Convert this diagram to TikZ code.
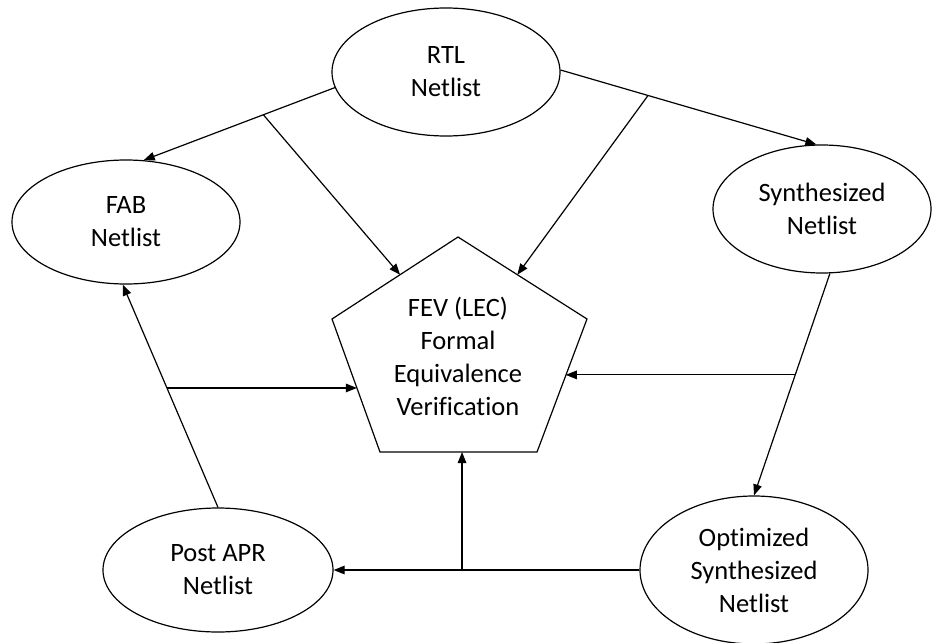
\documentclass[tikz,border=0pt]{standalone}
\usepackage{fontspec}
\setmainfont{Carlito}[Ligatures=CommonOff]
\usetikzlibrary{shapes.geometric,arrows.meta,calc}
\begin{document}
\begin{tikzpicture}[x=1pt,y=-1pt,
  every node/.style={font=\fontsize{26.5}{33}\selectfont, align=center, text=black},
  netlist/.style={ellipse, draw, line width=1.2pt, inner sep=0pt},
  flow/.style={line width=1.2pt, -{Triangle[length=11pt,width=8.5pt]}},
  link/.style={line width=1.2pt}]
\useasboundingbox[fill=white] (0,0) rectangle (933,642);

% netlist stages
\node[netlist, minimum width=228pt, minimum height=128pt] (rtl) at (446,72) {RTL\\Netlist};
\node[netlist, minimum width=228pt, minimum height=124pt] (fab) at (126,222) {FAB\\Netlist};
\node[netlist, minimum width=218pt, minimum height=128pt] (syn) at (822,209) {Synthesized\\Netlist};
\node[netlist, minimum width=230pt, minimum height=124pt] (apr) at (218,570) {Post APR\\Netlist};
\node[netlist, minimum width=228pt, minimum height=148pt] (opt) at (754,570) {Optimized\\Synthesized\\Netlist};

% equivalence checker (pentagon)
\coordinate (pt) at (458,237);
\coordinate (pl) at (332,319);
\coordinate (pr) at (587,319);
\coordinate (pbl) at (380,452);
\coordinate (pbr) at (537,452);
\draw[link] (pt) -- (pr) -- (pbr) -- (pbl) -- (pl) -- cycle;
\node (fev) at (458,356) {FEV (LEC)\\Formal\\Equivalence\\Verification};

% entry points on the pentagon edges
\coordinate (e1) at ($(pt)!0.46!(pl)$);
\coordinate (e2) at ($(pt)!0.46!(pr)$);
\coordinate (e3) at ($(pr)!0.425!(pbr)$);
\coordinate (e5) at ($(pl)!0.519!(pbl)$);

% flow between stages, with taps into the checker
\draw[flow] (rtl.188) -- coordinate[pos=0.374] (b1) (fab.74);
\draw[flow] (b1) -- (e1);

\draw[flow] (rtl.1) -- coordinate[pos=0.342] (b2) (syn.95);
\draw[flow] (b2) -- (e2);

\draw[flow] (syn.277) -- coordinate[pos=0.457] (b3) (opt.north);
\draw[flow] (b3) -- (b3 -| e3);

\draw[flow] (opt.west) -- coordinate[pos=0.58] (b4) (apr.east);
\draw[flow] (b4) -- (b4 |- pbl);

\draw[flow] (apr.north) -- coordinate[pos=0.536] (b5) (fab.267);
\draw[flow] (b5) -- (b5 -| e5);
\end{tikzpicture}
\end{document}
